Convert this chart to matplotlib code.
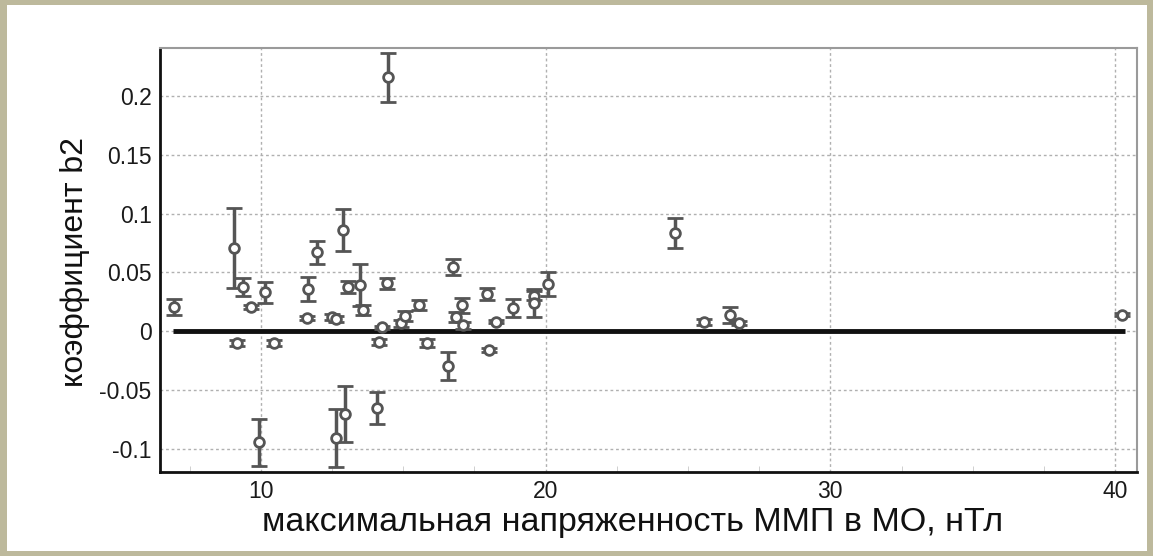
import matplotlib
matplotlib.use("Agg")
import matplotlib.pyplot as plt
from matplotlib.patches import Rectangle
from matplotlib.ticker import FixedLocator, MultipleLocator

plt.rcParams['font.family'] = ['Liberation Sans', 'DejaVu Sans']

# --- data ---
b_field = [6.95, 9.05, 9.37, 9.65, 10.14, 11.65, 11.96, 11.61, 12.50, 12.65,
           9.16, 10.46, 12.88, 13.05, 13.47, 13.58, 14.15, 14.25, 14.42, 14.91,
           15.05, 15.54, 15.82, 16.58, 16.74, 16.84, 17.05, 17.09, 17.96, 18.25,
           18.02, 18.84, 19.60, 19.60, 20.07, 9.93, 12.63, 12.95, 14.07, 14.46,
           24.56, 25.58, 26.46, 26.81, 40.25]
coef_b2 = [0.0204, 0.0706, 0.0375, 0.0204, 0.0330, 0.0357, 0.0672, 0.0110, 0.0120, 0.0100,
           -0.0102, -0.0102, 0.0860, 0.0375, 0.0390, 0.0180, -0.0094, 0.0030, 0.0405, 0.0068,
           0.0128, 0.0220, -0.0102, -0.0295, 0.0545, 0.0120, 0.0220, 0.0050, 0.0315, 0.0080,
           -0.0160, 0.0196, 0.0300, 0.0240, 0.0400, -0.0945, -0.0910, -0.0706, -0.0655, 0.2160,
           0.0834, 0.0080, 0.0136, 0.0068, 0.0140]
coef_err = [0.0065, 0.0340, 0.0075, 0.0015, 0.0090, 0.0100, 0.0098, 0.0015, 0.0025, 0.0025,
            0.0025, 0.0025, 0.0180, 0.0050, 0.0180, 0.0040, 0.0025, 0.0015, 0.0050, 0.0030,
            0.0040, 0.0040, 0.0030, 0.0120, 0.0065, 0.0040, 0.0065, 0.0030, 0.0055, 0.0015,
            0.0015, 0.0075, 0.0040, 0.0120, 0.0100, 0.0200, 0.0250, 0.0240, 0.0140, 0.0210,
            0.0125, 0.0025, 0.0065, 0.0015, 0.0010]

x_ticks = [10, 20, 30, 40]
y_ticks = [-0.1, -0.05, 0, 0.05, 0.1, 0.15, 0.2]
y_tick_labels = ["-0.1", "-0.05", "0", "0.05", "0.1", "0.15", "0.2"]
zero_line_x = [6.9, 40.35]
zero_line_y = [0, 0]

x_label = "максимальная напряженность ММП в МО, нТл"
y_label = "коэффициент b2"

# --- figure ---
fig = plt.figure(figsize=(11.53, 5.56), dpi=100)
fig.patch.set_facecolor('#bdb99c')
fig.patches.append(Rectangle((7 / 1153, 1 - 551 / 556), (1147 - 7) / 1153, (551 - 5) / 556,
                             transform=fig.transFigure, facecolor='white',
                             edgecolor='none', zorder=-10))

ax = fig.add_axes([160 / 1153, 1 - 472 / 556, (1137 - 160) / 1153, (472 - 48) / 556])
ax.set_zorder(5)
ax.set_facecolor('white')

ax.set_xlim(6.46, 40.77)
ax.set_ylim(-0.12, 0.2409)

ax.xaxis.set_major_locator(FixedLocator(x_ticks))
ax.xaxis.set_minor_locator(MultipleLocator(2.5))
ax.yaxis.set_major_locator(FixedLocator(y_ticks))
ax.set_yticklabels(y_tick_labels)
ax.set_xticklabels([str(v) for v in x_ticks])

ax.grid(True, which='major', linestyle=(0, (2, 2)), color='#b0b0b0', linewidth=1.0)
ax.set_axisbelow(True)

ax.tick_params(axis='both', which='major', labelsize=16.5, length=0, pad=6, labelcolor='#1a1a1a')
ax.tick_params(axis='x', which='minor', direction='in', length=4, color='#c8c8c8')

for side in ('left', 'bottom'):
    ax.spines[side].set_color('#111111')
    ax.spines[side].set_linewidth(2.0)
for side in ('top', 'right'):
    ax.spines[side].set_color('#9a9a9a')
    ax.spines[side].set_linewidth(1.5)

ax.plot(zero_line_x, zero_line_y, color='#111111', linewidth=3.5, zorder=2,
        solid_capstyle='butt')

ax.errorbar(b_field, coef_b2, yerr=coef_err, fmt='o', color='#555555',
            ecolor='#555555', elinewidth=2.5, capsize=6, capthick=2.5,
            markersize=7, markerfacecolor='white', markeredgecolor='#555555',
            markeredgewidth=2.0, zorder=3)

fig.text((263 + 1002) / 2 / 1153, 1 - 522 / 556, x_label, ha='center', va='center',
         fontsize=24.5, color='#111111')
fig.text(75 / 1153, 1 - 262 / 556, y_label, ha='center', va='center', rotation=90,
         fontsize=23, color='#111111')

fig.savefig('out.png', dpi=100, facecolor=fig.get_facecolor())
